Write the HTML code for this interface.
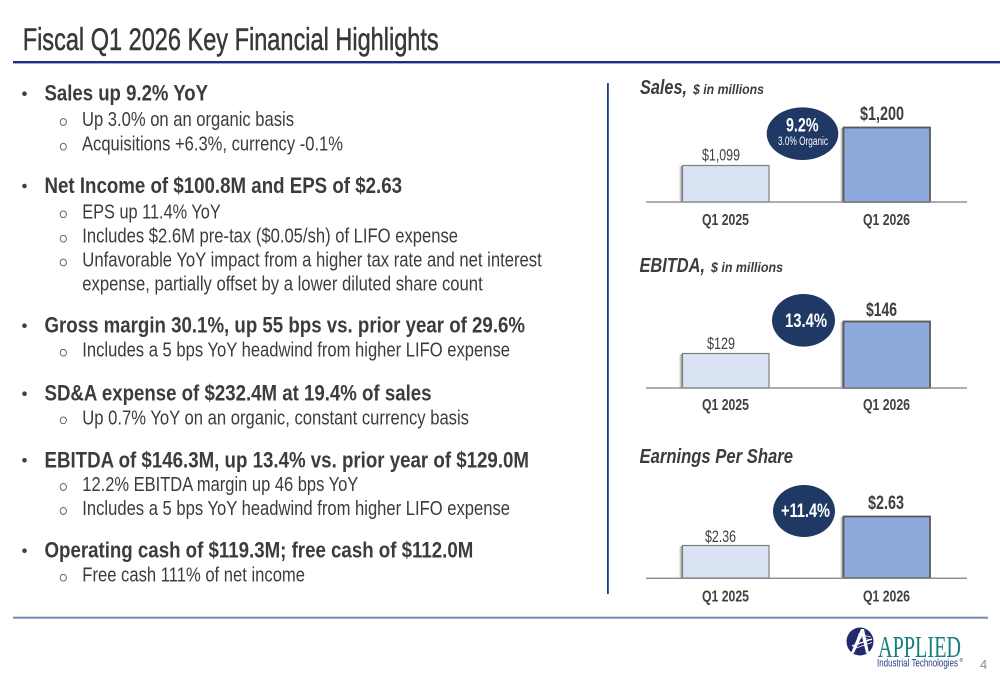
<!DOCTYPE html>
<html>
<head>
<meta charset="utf-8">
<style>
html,body{margin:0;padding:0;background:#fff;}
svg{display:block;}
.t{font-family:"Liberation Sans Narrow","Liberation Sans",sans-serif;}
.s{font-family:"Liberation Serif",serif;}
</style>
</head>
<body>
<svg width="1000" height="685" viewBox="0 0 1000 685" xmlns="http://www.w3.org/2000/svg">
<defs>
  <linearGradient id="sh" x1="0" y1="0" x2="1" y2="0">
    <stop offset="0" stop-color="#bbbbbb" stop-opacity="0"/>
    <stop offset="1" stop-color="#444444" stop-opacity="0.95"/>
  </linearGradient>
</defs>
<rect width="1000" height="685" fill="#ffffff"/>

<!-- Title -->
<text class="t" x="22.7" y="50" font-size="31.5" fill="#383838" stroke="#383838" stroke-width="0.5" textLength="416" lengthAdjust="spacingAndGlyphs">Fiscal Q1 2026 Key Financial Highlights</text>
<rect x="13" y="61" width="987" height="2.4" fill="#1F2F80"/>

<!-- Left bullets -->
<g class="t" fill="#3c3c3c">
  <g font-size="22.5" font-weight="bold">
    <text x="44.5" y="100.7" textLength="163.5" lengthAdjust="spacingAndGlyphs">Sales up 9.2% YoY</text>
    <text x="44.5" y="193" textLength="357.5" lengthAdjust="spacingAndGlyphs">Net Income of $100.8M and EPS of $2.63</text>
    <text x="44.5" y="332.7" textLength="480.5" lengthAdjust="spacingAndGlyphs">Gross margin 30.1%, up 55 bps vs. prior year of 29.6%</text>
    <text x="44.5" y="400.7" textLength="387" lengthAdjust="spacingAndGlyphs">SD&amp;A expense of $232.4M at 19.4% of sales</text>
    <text x="44.5" y="467.3" textLength="484.5" lengthAdjust="spacingAndGlyphs">EBITDA of $146.3M, up 13.4% vs. prior year of $129.0M</text>
    <text x="44.5" y="557.7" textLength="428.8" lengthAdjust="spacingAndGlyphs">Operating cash of $119.3M; free cash of $112.0M</text>
  </g>
  <g font-size="20">
    <text x="82" y="126" textLength="212" lengthAdjust="spacingAndGlyphs">Up 3.0% on an organic basis</text>
    <text x="82" y="150.7" textLength="261" lengthAdjust="spacingAndGlyphs">Acquisitions +6.3%, currency -0.1%</text>
    <text x="82.3" y="218.3" textLength="138.4" lengthAdjust="spacingAndGlyphs">EPS up 11.4% YoY</text>
    <text x="82.3" y="242.7" textLength="375.7" lengthAdjust="spacingAndGlyphs">Includes $2.6M pre-tax ($0.05/sh) of LIFO expense</text>
    <text x="82.3" y="266.5" textLength="459.4" lengthAdjust="spacingAndGlyphs">Unfavorable YoY impact from a higher tax rate and net interest</text>
    <text x="82.3" y="290.3" textLength="400.4" lengthAdjust="spacingAndGlyphs">expense, partially offset by a lower diluted share count</text>
    <text x="82.3" y="356.7" textLength="427.7" lengthAdjust="spacingAndGlyphs">Includes a 5 bps YoY headwind from higher LIFO expense</text>
    <text x="82.3" y="424.3" textLength="386.7" lengthAdjust="spacingAndGlyphs">Up 0.7% YoY on an organic, constant currency basis</text>
    <text x="82.3" y="491" textLength="276" lengthAdjust="spacingAndGlyphs">12.2% EBITDA margin up 46 bps YoY</text>
    <text x="82.3" y="515" textLength="427.7" lengthAdjust="spacingAndGlyphs">Includes a 5 bps YoY headwind from higher LIFO expense</text>
    <text x="82.3" y="581.7" textLength="222.7" lengthAdjust="spacingAndGlyphs">Free cash 111% of net income</text>
  </g>
</g>
<!-- main bullets -->
<g fill="#404040">
  <circle cx="24.5" cy="93.7" r="2.3"/>
  <circle cx="24.5" cy="186" r="2.3"/>
  <circle cx="24.5" cy="325.7" r="2.3"/>
  <circle cx="24.5" cy="393.7" r="2.3"/>
  <circle cx="24.5" cy="460.3" r="2.3"/>
  <circle cx="24.5" cy="550.7" r="2.3"/>
</g>
<!-- sub bullets -->
<g fill="none" stroke="#555555" stroke-width="0.9">
  <ellipse cx="63.3" cy="122" rx="3.1" ry="3.4"/>
  <ellipse cx="63.3" cy="146.7" rx="3.1" ry="3.4"/>
  <ellipse cx="63.3" cy="214.3" rx="3.1" ry="3.4"/>
  <ellipse cx="63.3" cy="238.7" rx="3.1" ry="3.4"/>
  <ellipse cx="63.3" cy="262.5" rx="3.1" ry="3.4"/>
  <ellipse cx="63.3" cy="352.7" rx="3.1" ry="3.4"/>
  <ellipse cx="63.3" cy="420.3" rx="3.1" ry="3.4"/>
  <ellipse cx="63.3" cy="487" rx="3.1" ry="3.4"/>
  <ellipse cx="63.3" cy="511" rx="3.1" ry="3.4"/>
  <ellipse cx="63.3" cy="577.7" rx="3.1" ry="3.4"/>
</g>

<!-- vertical divider -->
<rect x="607" y="83" width="1.8" height="511" fill="#1F3A93"/>

<!-- ===== Sales chart ===== -->
<g class="t" fill="#3c3c3c" font-weight="bold" font-style="italic">
  <text x="640" y="94" font-size="20" textLength="47" lengthAdjust="spacingAndGlyphs">Sales,</text>
  <text x="693" y="94" font-size="14" textLength="71" lengthAdjust="spacingAndGlyphs">$ in millions</text>
</g>
<rect x="678.5" y="166" width="4.5" height="36" fill="url(#sh)"/>
<rect x="682.5" y="165.5" width="86.5" height="36.5" fill="#DAE3F3" stroke="#7F7F7F" stroke-width="1.2"/>
<rect x="839.5" y="128" width="4.5" height="74" fill="url(#sh)"/>
<rect x="843.5" y="127.5" width="86.5" height="74.5" fill="#8EA9DB" stroke="#595959" stroke-width="1.8"/>
<rect x="646" y="201.3" width="321" height="1.4" fill="#8C8C8C"/>
<ellipse cx="802.5" cy="133.7" rx="35.8" ry="26.3" fill="#1F3864"/>
<g class="t">
  <text x="702" y="160.7" font-size="16.5" fill="#404040" textLength="38" lengthAdjust="spacingAndGlyphs">$1,099</text>
  <text x="860" y="120" font-size="19.5" font-weight="bold" fill="#404040" textLength="44" lengthAdjust="spacingAndGlyphs">$1,200</text>
  <text x="786" y="131.7" font-size="19.5" font-weight="bold" fill="#ffffff" textLength="32.5" lengthAdjust="spacingAndGlyphs">9.2%</text>
  <text x="778" y="145" font-size="11.5" fill="#ffffff" textLength="50" lengthAdjust="spacingAndGlyphs">3.0% Organic</text>
  <text x="702" y="225" font-size="16" font-weight="bold" fill="#404040" textLength="47" lengthAdjust="spacingAndGlyphs">Q1 2025</text>
  <text x="863" y="225" font-size="16" font-weight="bold" fill="#404040" textLength="47" lengthAdjust="spacingAndGlyphs">Q1 2026</text>
</g>

<!-- ===== EBITDA chart ===== -->
<g class="t" fill="#3c3c3c" font-weight="bold" font-style="italic">
  <text x="639.5" y="272" font-size="20" textLength="65.5" lengthAdjust="spacingAndGlyphs">EBITDA,</text>
  <text x="711" y="272" font-size="14" textLength="72" lengthAdjust="spacingAndGlyphs">$ in millions</text>
</g>
<rect x="678.5" y="354" width="4.5" height="34" fill="url(#sh)"/>
<rect x="682.5" y="353.5" width="86.5" height="34.5" fill="#DAE3F3" stroke="#7F7F7F" stroke-width="1.2"/>
<rect x="839.5" y="322" width="4.5" height="66" fill="url(#sh)"/>
<rect x="843.5" y="321.5" width="86.5" height="66.5" fill="#8EA9DB" stroke="#595959" stroke-width="1.8"/>
<rect x="646" y="387.3" width="321" height="1.4" fill="#8C8C8C"/>
<ellipse cx="803.5" cy="320.3" rx="31.5" ry="26.3" fill="#1F3864"/>
<g class="t">
  <text x="707" y="349" font-size="16.5" fill="#404040" textLength="28" lengthAdjust="spacingAndGlyphs">$129</text>
  <text x="866" y="316" font-size="19.5" font-weight="bold" fill="#404040" textLength="31" lengthAdjust="spacingAndGlyphs">$146</text>
  <text x="785" y="327" font-size="19.5" font-weight="bold" fill="#ffffff" textLength="42" lengthAdjust="spacingAndGlyphs">13.4%</text>
  <text x="702" y="410" font-size="16" font-weight="bold" fill="#404040" textLength="47" lengthAdjust="spacingAndGlyphs">Q1 2025</text>
  <text x="863" y="410" font-size="16" font-weight="bold" fill="#404040" textLength="47" lengthAdjust="spacingAndGlyphs">Q1 2026</text>
</g>

<!-- ===== EPS chart ===== -->
<g class="t" fill="#3c3c3c" font-weight="bold" font-style="italic">
  <text x="639.5" y="463" font-size="20" textLength="153.5" lengthAdjust="spacingAndGlyphs">Earnings Per Share</text>
</g>
<rect x="678.5" y="546" width="4.5" height="32" fill="url(#sh)"/>
<rect x="682.5" y="545.5" width="86.5" height="32.5" fill="#DAE3F3" stroke="#7F7F7F" stroke-width="1.2"/>
<rect x="839.5" y="517" width="4.5" height="61" fill="url(#sh)"/>
<rect x="843.5" y="516.5" width="86.5" height="61.5" fill="#8EA9DB" stroke="#595959" stroke-width="1.8"/>
<rect x="646" y="577.6" width="321" height="1.4" fill="#8C8C8C"/>
<ellipse cx="804" cy="511" rx="31" ry="26" fill="#1F3864"/>
<g class="t">
  <text x="705" y="542" font-size="16.5" fill="#404040" textLength="31" lengthAdjust="spacingAndGlyphs">$2.36</text>
  <text x="868" y="509" font-size="19.5" font-weight="bold" fill="#404040" textLength="36" lengthAdjust="spacingAndGlyphs">$2.63</text>
  <text x="781" y="517" font-size="19.5" font-weight="bold" fill="#ffffff" textLength="49" lengthAdjust="spacingAndGlyphs">+11.4%</text>
  <text x="702" y="601.7" font-size="16" font-weight="bold" fill="#404040" textLength="47" lengthAdjust="spacingAndGlyphs">Q1 2025</text>
  <text x="863" y="601.7" font-size="16" font-weight="bold" fill="#404040" textLength="47" lengthAdjust="spacingAndGlyphs">Q1 2026</text>
</g>

<!-- bottom line -->
<rect x="13" y="616.7" width="975" height="2" fill="#7487B5"/>

<!-- Logo -->
<g>
  <ellipse cx="860" cy="641.5" rx="13.5" ry="14" fill="#22296E"/>
  <path d="M851 653 L861 629 L864 629 L869 653 L866 653 L862 636 L854 653 Z" fill="#ffffff"/>
  <path d="M852 646 L872 639" stroke="#ffffff" stroke-width="1.2"/>
  <path d="M853 649 L872 642.5" stroke="#ffffff" stroke-width="0.8"/>
  <path d="M858 634 L871 637" stroke="#ffffff" stroke-width="0.8"/>
  <path d="M857 637 L872 640" stroke="#ffffff" stroke-width="0.6"/>
  <text class="s" x="878" y="657" font-size="31" fill="#17807E" textLength="83" lengthAdjust="spacingAndGlyphs">APPLIED</text>
  <text class="t" x="877" y="666.5" font-size="11" fill="#2A3A85" textLength="81" lengthAdjust="spacingAndGlyphs">Industrial Technologies</text>
  <text class="t" x="959.5" y="662" font-size="5" fill="#2A3A85">®</text>
</g>
<text class="t" x="980" y="669" font-size="13" fill="#8C8C8C">4</text>
</svg>
</body>
</html>
